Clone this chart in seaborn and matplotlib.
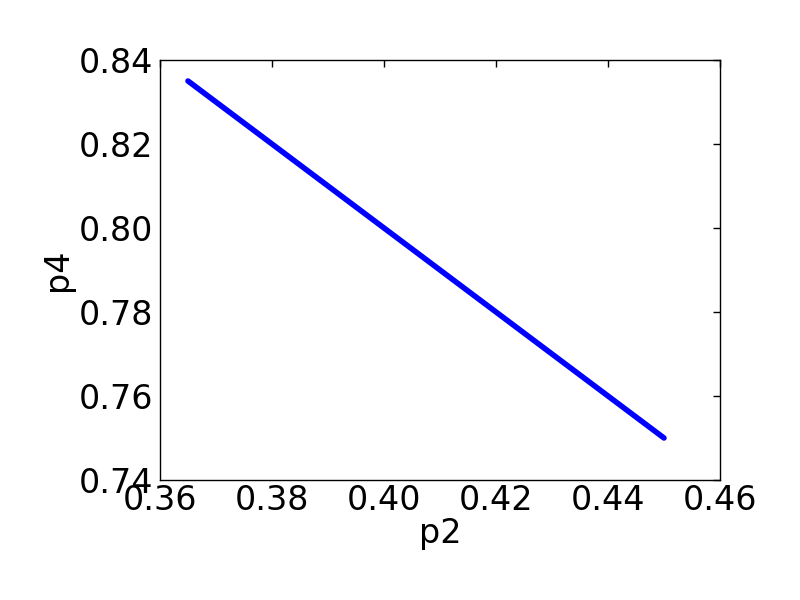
import matplotlib
matplotlib.use("Agg")
import matplotlib.pyplot as plt
import seaborn as sns
import pandas as pd

# endpoints of the p2 / p4 trade-off line
p2 = [0.365, 0.45]
p4 = [0.835, 0.75]

df = pd.DataFrame({"p2": p2, "p4": p4})

sns.set_style("white")
plt.rcParams["font.family"] = ["DejaVu Sans"]

fig, ax = plt.subplots(figsize=(8, 6), dpi=100)
fig.subplots_adjust(left=0.2, right=0.9, top=0.9, bottom=0.2)

sns.lineplot(data=df, x="p2", y="p4", color="blue", linewidth=4, ax=ax)

ax.set_xlim(0.36, 0.46)
ax.set_ylim(0.74, 0.84)
ax.set_xticks([0.36, 0.38, 0.40, 0.42, 0.44, 0.46])
ax.set_yticks([0.74, 0.76, 0.78, 0.80, 0.82, 0.84])
ax.xaxis.set_major_formatter(matplotlib.ticker.FormatStrFormatter("%.2f"))
ax.yaxis.set_major_formatter(matplotlib.ticker.FormatStrFormatter("%.2f"))
ax.tick_params(direction="in", length=5, width=1, top=True, right=True,
               labelsize=24, colors="black")
ax.tick_params(axis="x", pad=3)
ax.tick_params(axis="y", pad=5)
for s in ax.spines.values():
    s.set_color("black")
    s.set_linewidth(1)
ax.set_xlabel("p2", fontsize=24, labelpad=0, color="black")
ax.set_ylabel("p4", fontsize=24, labelpad=3, color="black")

fig.savefig("out.png", dpi=100)
